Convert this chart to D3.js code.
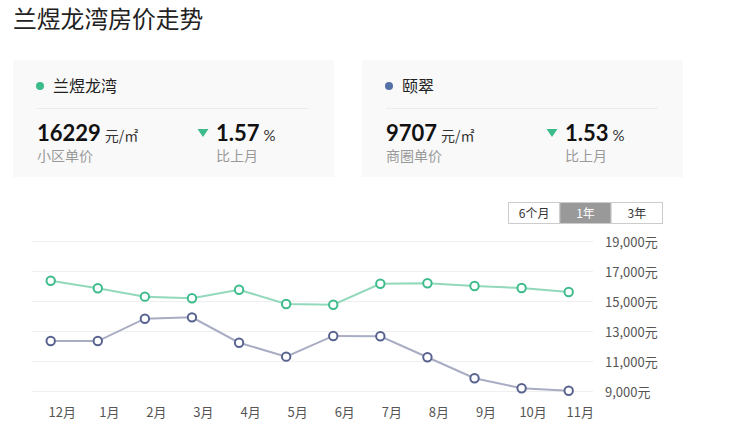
<!DOCTYPE html>
<html><head><meta charset="utf-8">
<script src="https://cdn.jsdelivr.net/npm/d3@7/dist/d3.min.js"></script>
<style>
html,body{margin:0;padding:0;background:#fff;}
svg{display:block;font-family:"Noto Sans CJK SC","Noto Sans",sans-serif;}
</style></head>
<body><svg id="c" width="736" height="445"></svg>
<script>
const months = ["12月","1月","2月","3月","4月","5月","6月","7月","8月","9月","10月","11月"];
const seriesA = [16350,15850,15290,15180,15750,14800,14750,16150,16180,16000,15870,15600];
const seriesB = [12330,12330,13820,13910,12220,11290,12670,12650,11250,9850,9180,9020];
const yTicks = [9000,11000,13000,15000,17000,19000];
const tabs = ["6个月","1年","3年"];
const cards = [
  {name:"兰煜龙湾", price:"16229", label:"小区单价", change:"1.57", color:"#3dbb8a"},
  {name:"颐翠", price:"9707", label:"商圈单价", change:"1.53", color:"#5470a8"}
];

const svg = d3.select("#c");
svg.append("text").attr("x",13).attr("y",28).attr("font-size",23.8).attr("fill","#222").text("兰煜龙湾房价走势");

// cards
const cardX = [13, 362];
cards.forEach((c,i)=>{
  const g = svg.append("g").attr("transform",`translate(${cardX[i]},60)`);
  g.append("rect").attr("width",321).attr("height",117).attr("fill","#f9f9f9");
  g.append("circle").attr("cx",27).attr("cy",26).attr("r",4).attr("fill",c.color);
  g.append("text").attr("x",40).attr("y",32).attr("font-size",16).attr("fill","#222").text(c.name);
  g.append("line").attr("x1",24).attr("x2",296).attr("y1",48.5).attr("y2",48.5).attr("stroke","#ececec");
  const t = g.append("text").attr("x",24).attr("y",80.5).attr("fill","#111");
  t.append("tspan").attr("font-size",22).attr("font-weight","bold").attr("font-family","Lato,'Open Sans',sans-serif").text(c.price);
  t.append("tspan").attr("font-size",14).attr("dx",4).attr("fill","#333").text("元/㎡");
  g.append("text").attr("x",24).attr("y",101).attr("font-size",14).attr("fill","#999").text(c.label);
  g.append("path").attr("d","M184.5,69 L195.5,69 L190,77 Z").attr("fill","#3dbb8a");
  const t2 = g.append("text").attr("x",203).attr("y",80.5).attr("fill","#111");
  t2.append("tspan").attr("font-size",22).attr("font-weight","bold").attr("font-family","Lato,'Open Sans',sans-serif").text(c.change);
  t2.append("tspan").attr("font-size",15).attr("dx",4).attr("fill","#333").attr("font-family","Lato,sans-serif").text("%");
  g.append("text").attr("x",203).attr("y",101).attr("font-size",14).attr("fill","#999").text("比上月");
});

// tabs
const tabX = d3.scaleBand().domain(tabs).range([508.5,662.5]);
const tg = svg.append("g");
tabs.forEach((t,i)=>{
  tg.append("rect").attr("x",tabX(t)).attr("y",202.5).attr("width",tabX.bandwidth()).attr("height",21)
    .attr("fill", i===1?"#999":"#fff").attr("stroke","#ccc");
  tg.append("text").attr("x",tabX(t)+tabX.bandwidth()/2).attr("y",218).attr("text-anchor","middle")
    .attr("font-size",12).attr("fill", i===1?"#fff":"#333").text(t);
});

// chart
const x = d3.scalePoint().domain(months).range([50.7,568.7]);
const y = d3.scaleLinear().domain([9000,19000]).range([391,241]);

const grid = svg.append("g");
grid.selectAll("line").data(yTicks).join("line")
  .attr("x1",32).attr("x2",593).attr("y1",d=>Math.round(y(d))+0.5).attr("y2",d=>Math.round(y(d))+0.5)
  .attr("stroke","#efefef");

const yAxis = d3.axisRight(y).tickValues(yTicks).tickSize(0).tickPadding(0)
  .tickFormat(d=>d3.format(",")(d)+"元");
const ya = svg.append("g").attr("transform","translate(605,1)").call(yAxis);
ya.select(".domain").remove();
ya.selectAll("text").attr("font-size",13).attr("fill","#555").attr("font-family","'Noto Sans CJK SC',sans-serif");

const xAxis = d3.axisBottom(x).tickSize(0).tickPadding(0);
const xa = svg.append("g").attr("transform","translate(11,408)").call(xAxis);
xa.select(".domain").remove();
xa.selectAll("text").attr("font-size",13).attr("fill","#555").attr("font-family","'Noto Sans CJK SC',sans-serif");

function drawSeries(data, lineColor, pointColor){
  const line = d3.line().x((d,i)=>x(months[i])).y(d=>y(d));
  svg.append("path").datum(data).attr("d",line).attr("fill","none").attr("stroke",lineColor).attr("stroke-width",2);
  svg.append("g").selectAll("circle").data(data).join("circle")
    .attr("cx",(d,i)=>x(months[i])).attr("cy",d=>y(d)).attr("r",4.2)
    .attr("fill","#fff").attr("stroke",pointColor).attr("stroke-width",2);
}
drawSeries(seriesA, "#92d9bb", "#3dbb8a");
drawSeries(seriesB, "#a9adc4", "#58628f");
</script></body></html>
